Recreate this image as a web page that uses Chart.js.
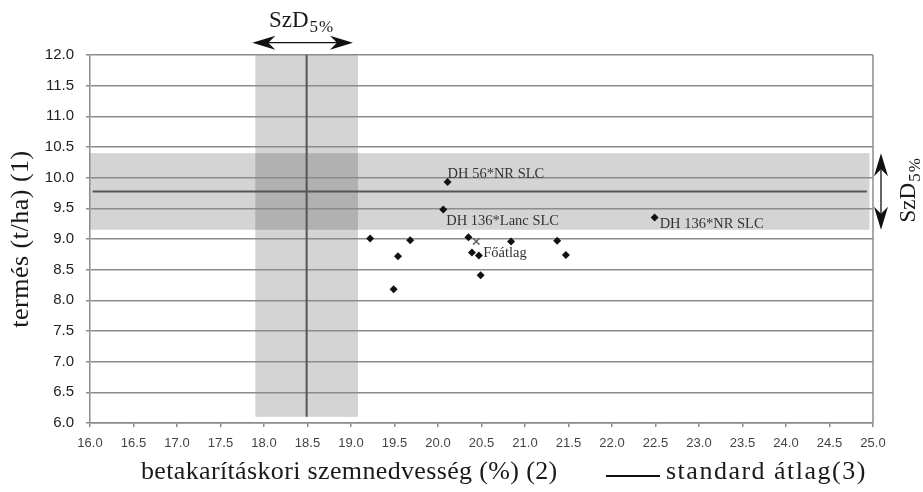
<!DOCTYPE html>
<html lang="hu">
<head>
<meta charset="utf-8">
<title>Termés és betakarításkori szemnedvesség</title>
<script src="https://cdn.jsdelivr.net/npm/chart.js@4.4.1/dist/chart.umd.min.js"></script>
<style>
	html, body { margin:0; padding:0; background:#fff; }
	#doboz { position:relative; width:923px; height:492px; }
</style>
</head>
<body>
<div id="doboz"><canvas id="grafikon" width="923" height="492"></canvas></div>
<script>
// ---- ADATOK ----
// hibridek: betakarításkori szemnedvesség (%) és termés (t/ha)
const nedvesseg = [19.22, 19.49, 19.54, 19.68, 20.35, 20.39, 20.47, 20.49, 20.84, 21.37, 21.47, 20.11, 20.06, 22.49];
const termes    = [9.01, 8.18, 8.72, 8.98, 9.03, 8.78, 8.73, 8.41, 8.96, 8.97, 8.74, 9.93, 9.48, 9.35];
const nevek     = ["", "", "", "", "", "", "", "", "", "", "", "DH 56*NR SLC", "DH 136*Lanc SLC", "DH 136*NR SLC"];

// főátlag
const foatlagX   = [20.44];
const foatlagY   = [8.96];
const foatlagNev = ["Főátlag"];

// standard átlag és SzD5%
const standardX = 18.49;
const standardY = 9.775;
const szdX = 0.59;
const szdY = 0.625;

// sávok és átlagvonalak kiterjedése
const savX   = [16.0, 24.96];
const savY   = [6.10, 12.0];
const vonalX = [16.03, 24.93];
const vonalY = [6.10, 12.0];

// tengelyek
const xMin = 16.0, xMax = 25.0;
const yMin = 6.0,  yMax = 12.0;
const lepes = 0.5;

// ---- STÍLUS ----
const SERIF = '"Liberation Serif", "Times New Roman", serif';
const SANS  = '"Liberation Sans", Arial, sans-serif';
const RACS  = '#8c8c8c';
const cimkeHely = {
	"DH 56*NR SLC":    [0, -4],
	"DH 136*Lanc SLC": [3, 15],
	"DH 136*NR SLC":   [5, 10],
	"Főátlag":         [7, 16]
};

function fej(ctx){
	// nyílhegy, csúcs az origóban, balra mutat
	ctx.beginPath();
	ctx.moveTo(0, 0);
	ctx.lineTo(23, -7);
	ctx.lineTo(16, 0);
	ctx.lineTo(23, 7);
	ctx.closePath();
	ctx.fill();
}

function nyil(ctx, xa, ya, xb, yb){
	const L = Math.hypot(xb - xa, yb - ya);
	ctx.save();
	ctx.translate(xa, ya);
	ctx.rotate(Math.atan2(yb - ya, xb - xa));
	ctx.fillStyle = '#111';
	ctx.strokeStyle = '#111';
	ctx.lineWidth = 1.3;
	ctx.beginPath();
	ctx.moveTo(16, 0);
	ctx.lineTo(L - 16, 0);
	ctx.stroke();
	fej(ctx);
	ctx.translate(L, 0);
	ctx.rotate(Math.PI);
	fej(ctx);
	ctx.restore();
}

function szdFelirat(ctx, x, y){
	ctx.textAlign = 'left';
	ctx.textBaseline = 'alphabetic';
	ctx.font = '23px ' + SERIF;
	ctx.fillText('SzD', x, y);
	const w = ctx.measureText('SzD').width;
	ctx.font = '17px ' + SERIF;
	ctx.letterSpacing = '1px';
	ctx.fillText('5%', x + w + 1, y + 4.5);
	ctx.letterSpacing = '0px';
}

const rajzolo = {
	id: 'rajzolo',
	beforeDraw(chart){
		// SzD5% sávok, a rács alatt
		const ctx = chart.ctx;
		const x = chart.scales.x, y = chart.scales.y;
		ctx.save();
		ctx.fillStyle = 'rgba(0,0,0,0.17)';
		let x0 = x.getPixelForValue(savX[0]), x1 = x.getPixelForValue(savX[1]);
		let y0 = y.getPixelForValue(standardY + szdY), y1 = y.getPixelForValue(standardY - szdY);
		ctx.fillRect(x0, y0, x1 - x0, y1 - y0);
		x0 = x.getPixelForValue(standardX - szdX); x1 = x.getPixelForValue(standardX + szdX);
		y0 = y.getPixelForValue(savY[1]); y1 = y.getPixelForValue(savY[0]);
		ctx.fillRect(x0, y0, x1 - x0, y1 - y0);
		ctx.restore();
	},
	afterDraw(chart){
		const ctx = chart.ctx;
		const x = chart.scales.x, y = chart.scales.y;
		const a = chart.chartArea;
		ctx.save();

		// jobb oldali keret
		ctx.strokeStyle = RACS;
		ctx.lineWidth = 1.5;
		ctx.beginPath();
		ctx.moveTo(a.right, a.top);
		ctx.lineTo(a.right, a.bottom);
		ctx.stroke();

		// pontfeliratok
		ctx.fillStyle = '#333';
		ctx.font = '14.5px ' + SERIF;
		ctx.textAlign = 'left';
		ctx.textBaseline = 'alphabetic';
		nevek.forEach((n, i) => {
			if(!n) return;
			const o = cimkeHely[n] || [4, 4];
			ctx.fillText(n, x.getPixelForValue(nedvesseg[i]) + o[0], y.getPixelForValue(termes[i]) + o[1]);
		});
		foatlagNev.forEach((n, i) => {
			const o = cimkeHely[n] || [4, 4];
			ctx.fillText(n, x.getPixelForValue(foatlagX[i]) + o[0], y.getPixelForValue(foatlagY[i]) + o[1]);
		});

		// SzD5% nyilak
		const nx0 = x.getPixelForValue(standardX - szdX) - 3;
		const nx1 = x.getPixelForValue(standardX + szdX) - 5;
		nyil(ctx, nx0, 42.7, nx1, 42.7);
		const ny0 = y.getPixelForValue(standardY + szdY);
		const ny1 = y.getPixelForValue(standardY - szdY);
		nyil(ctx, 881, ny0, 881, ny1);

		ctx.fillStyle = '#1a1a1a';
		szdFelirat(ctx, 269, 27.3);
		ctx.save();
		ctx.translate(915, (ny0 + ny1) / 2 + 31);
		ctx.rotate(-Math.PI / 2);
		szdFelirat(ctx, 0, 0);
		ctx.restore();

		// tengelycímek
		ctx.fillStyle = '#1a1a1a';
		ctx.font = '26px ' + SERIF;
		ctx.textBaseline = 'alphabetic';
		ctx.textAlign = 'left';
		ctx.letterSpacing = '0.35px';
		ctx.fillText('betakarításkori szemnedvesség (%) (2)', 141, 479);

		ctx.save();
		ctx.translate(28.3, (a.top + a.bottom) / 2);
		ctx.rotate(-Math.PI / 2);
		ctx.textAlign = 'center';
		ctx.letterSpacing = '0.5px';
		ctx.fillText('termés (t/ha) (1)', 0, 0);
		ctx.restore();

		// jelmagyarázat
		ctx.strokeStyle = '#111';
		ctx.lineWidth = 2;
		ctx.beginPath();
		ctx.moveTo(606, 476);
		ctx.lineTo(660, 476);
		ctx.stroke();
		ctx.letterSpacing = '1.5px';
		ctx.fillText('standard átlag(3)', 666, 479);
		ctx.letterSpacing = '0px';

		ctx.restore();
	}
};

const pontok = nedvesseg.map((v, i) => ({x: v, y: termes[i]}));
const foatlag = foatlagX.map((v, i) => ({x: v, y: foatlagY[i]}));

new Chart(document.getElementById('grafikon'), {
	type: 'scatter',
	data: {
		datasets: [
			{
				label: 'hibridek',
				data: pontok,
				pointStyle: 'rectRot',
				pointRadius: 4,
				backgroundColor: '#111',
				borderColor: '#111',
				borderWidth: 0
			},
			{
				label: 'Főátlag',
				data: foatlag,
				pointStyle: 'crossRot',
				pointRadius: 4.5,
				borderColor: '#666',
				borderWidth: 1.5
			},
			{
				label: 'standard átlag (y)',
				data: vonalX.map(v => ({x: v, y: standardY})),
				showLine: true,
				pointRadius: 0,
				borderColor: '#555',
				borderWidth: 2
			},
			{
				label: 'standard átlag (x)',
				data: vonalY.map(v => ({x: standardX, y: v})),
				showLine: true,
				pointRadius: 0,
				borderColor: '#555',
				borderWidth: 2
			}
		]
	},
	options: {
		responsive: false,
		animation: false,
		devicePixelRatio: 1,
		layout: { padding: { top: 55, right: 50, bottom: 0, left: 0 } },
		plugins: {
			legend: { display: false },
			tooltip: { enabled: false }
		},
		scales: {
			x: {
				type: 'linear',
				min: xMin,
				max: xMax,
				afterFit(s){ s.height = 69; },
				ticks: {
					stepSize: lepes,
					autoSkip: false,
					maxRotation: 0,
					padding: 9,
					color: '#444',
					font: { family: SANS, size: 13 },
					callback: v => Number(v).toFixed(1)
				},
				grid: { drawOnChartArea: false, tickLength: 4, color: RACS, lineWidth: 1.5 },
				border: { color: RACS, width: 1.5 }
			},
			y: {
				min: yMin,
				max: yMax,
				afterFit(s){ s.width = 90; },
				ticks: {
					stepSize: lepes,
					padding: 12,
					color: '#222',
					font: { family: SANS, size: 15 },
					callback: v => Number(v).toFixed(1)
				},
				grid: { tickLength: 4, color: RACS, lineWidth: 1.5 },
				border: { color: RACS, width: 1.5 }
			}
		}
	},
	plugins: [rajzolo]
});
</script>
</body>
</html>
